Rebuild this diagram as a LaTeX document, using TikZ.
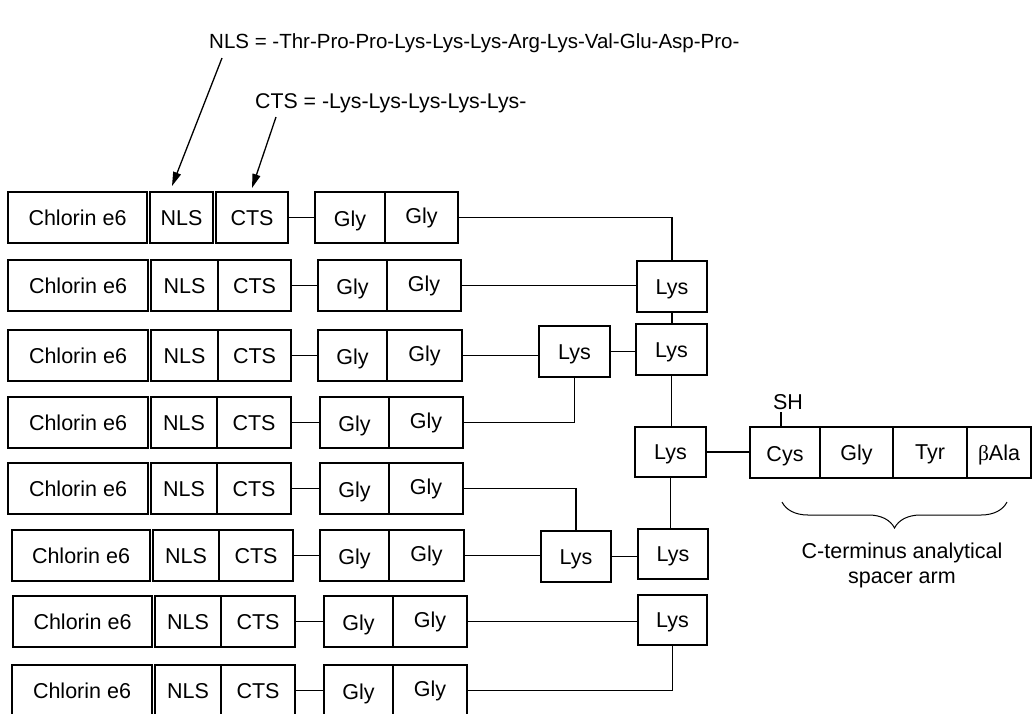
\documentclass[tikz,border=0pt]{standalone}
\usepackage{fontspec}
\setmainfont{Liberation Sans}
\newfontfamily\grk{Liberation Serif}
\usetikzlibrary{arrows.meta,decorations.pathreplacing}
\tikzset{
  every node/.style={font=\fontsize{21.5}{25}\selectfont, inner sep=0pt},
  box/.style={draw, line width=1.2pt, text height=15.4pt, text depth=0pt},
  wire/.style={line width=1.2pt},
  pointer/.style={line width=1.3pt, -{Stealth[length=14pt,width=8pt,inset=0pt]}},
  deftext/.style={anchor=west, text height=14.7pt, text depth=0pt},
}
\newcommand\bx[6]{\node[box, minimum width={(#3)-(#2)}, minimum height={(#5)-(#4)}] (#1) at ({((#2)+(#3))/2},{((#4)+(#5))/2}) {#6};}
\begin{document}
\begin{tikzpicture}[x=1pt,y=-1pt]
\useasboundingbox (0,0) rectangle (1032,713);
\clip (0,0) rectangle (1032,713);

% definitions at the top
\node[deftext, font=\fontsize{20.5}{24}\selectfont] (nlsdef) at (209,41) {NLS = -Thr-Pro-Pro-Lys-Lys-Lys-Arg-Lys-Val-Glu-Asp-Pro-};
\node[deftext, font=\fontsize{21.3}{25}\selectfont] (ctsdef) at (255,101) {CTS = -Lys-Lys-Lys-Lys-Lys-};
\coordinate (nlsfrom) at (222,58);
\coordinate (nlsto) at (172,186);
\coordinate (ctsfrom) at (276,117);
\coordinate (ctsto) at (252,188);
\draw[pointer] (nlsfrom) -- (nlsto);
\draw[pointer] (ctsfrom) -- (ctsto);

% eight peptide rows
\foreach \r/\yt/\a/\b/\c/\d/\e/\f/\g/\h/\k in {
 1/192/8/147/150/213/216/288/315/385/458,
 2/260/8/148/151/218/218/291/318/387/461,
 3/330/8/148/151/218/218/291/318/387/462,
 4/397/8/148/151/217/217/291/320/389/463,
 5/463/8/148/151/217/217/291/320/389/463,
 6/530/12/150/153/219/219/293/320/389/464,
 7/596/13/152/155/221/221/295/324/393/467,
 8/665/12/152/155/221/221/295/324/393/467}
{
 \bx{ch\r}{\a}{\b}{\yt}{\yt+51}{Chlorin e6}
 \bx{nls\r}{\c}{\d}{\yt}{\yt+51}{NLS}
 \bx{cts\r}{\e}{\f}{\yt}{\yt+51}{CTS}
 \bx{ga\r}{\g}{\h}{\yt}{\yt+51}{\raisebox{-1.5pt}{Gly}}
 \bx{gb\r}{\h}{\k}{\yt}{\yt+51}{\raisebox{1.5pt}{Gly}}
 \draw[wire] (cts\r.east) -- (cts\r.east -| ga\r.west);
}

% lysine branching core
\bx{lysA}{637}{707}{261}{312}{Lys}
\bx{lysB}{636}{707}{324}{375}{Lys}
\bx{lysC}{539}{610}{326}{377}{Lys}
\bx{lysD}{635}{706}{427}{477}{Lys}
\bx{lysE}{541}{611}{531}{582}{Lys}
\bx{lysF}{638}{708}{529}{579}{Lys}
\bx{lysG}{638}{707}{595}{645}{Lys}

% spacer arm
\bx{cys}{750}{820}{427}{478}{\raisebox{-1.5pt}{Cys}}
\bx{glyS}{820}{893}{427}{478}{Gly}
\bx{tyr}{893}{967}{427}{478}{\raisebox{0.5pt}{Tyr}}
\bx{bala}{967}{1031}{427}{478}{{\grk β}Ala}
\node (sh) at (788,402) {SH};
\draw[wire] ([xshift=-4pt]cys.north) -- ++(0,-14);

% connectors
\draw[wire] (gb1.east) -| (lysA.north);
\draw[wire] (gb2.east) -- (gb2.east -| lysA.west);
\draw[wire] (lysA.south) -- (lysA.south |- lysB.north);
\draw[wire] (gb3.east) -- (gb3.east -| lysC.west);
\draw[wire] (lysC.east) -- (lysC.east -| lysB.west);
\draw[wire] (gb4.east) -| (lysC.south);
\draw[wire] (lysB.south) -- (lysB.south |- lysD.north);
\draw[wire] (lysD.east) -- (lysD.east -| cys.west);
\draw[wire] (gb5.east) -| (lysE.north);
\draw[wire] (gb6.east) -- (gb6.east -| lysE.west);
\draw[wire] (lysE.east) -- (lysE.east -| lysF.west);
\draw[wire] (lysD.south) -- (lysD.south |- lysF.north);
\draw[wire] (gb7.east) -- (gb7.east -| lysG.west);
\draw[wire] (gb8.east) -| (lysG.south);

% brace and caption
\coordinate (brL) at (782,502);
\coordinate (brR) at (1007,502);
\draw[line width=1pt, decorate, decoration={brace, mirror, amplitude=26pt}] (brL) -- (brR);
\node[align=center] (arm) at (902,565) {C-terminus analytical\\spacer arm};
\end{tikzpicture}
\end{document}
